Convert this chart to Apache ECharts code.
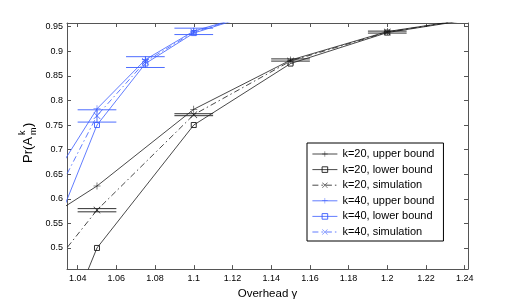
<!DOCTYPE html>
<html>
<head>
<meta charset="utf-8">
<script src="https://cdn.jsdelivr.net/npm/echarts@6/dist/echarts.min.js"></script>
<style>
html,body{margin:0;padding:0;background:#fff;}
#chart{width:518px;height:305px;}
</style>
</head>
<body>
<div id="chart"></div>
<script>
// ---- data ----
var k20X = [1.0, 1.05, 1.1, 1.15, 1.2, 1.25];
var k20Upper = [0.50, 0.626, 0.782, 0.882, 0.940, 0.970];
var k20Lower = [0.02, 0.500, 0.750, 0.875, 0.938, 0.969];
var k20Sim   = [0.33, 0.577, 0.771, 0.880, 0.939, 0.970];

var k40X = [1.025, 1.05, 1.075, 1.1, 1.125];
var k40Upper = [0.627, 0.783, 0.883, 0.941, 0.970];
var k40Lower = [0.505, 0.750, 0.875, 0.937, 0.968];
var k40Sim   = [0.578, 0.769, 0.879, 0.939, 0.969];

var k20ErrX = [1.05, 1.1, 1.15, 1.2];
var k20ErrLow = [0.5735, 0.769, 0.880, 0.937];
var k20ErrHigh = [0.580, 0.773, 0.8845, 0.941];

var k40ErrX = [1.05, 1.075, 1.1];
var k40ErrLow = [0.756, 0.867, 0.934];
var k40ErrHigh = [0.781, 0.889, 0.947];

var errHalfWidth = 0.01;

var xTicks = [1.04, 1.06, 1.08, 1.1, 1.12, 1.14, 1.16, 1.18, 1.2, 1.22, 1.24];
var yTicks = [0.5, 0.55, 0.6, 0.65, 0.7, 0.75, 0.8, 0.85, 0.9, 0.95];

var seriesNames = ['k=20, upper bound', 'k=20, lower bound', 'k=20, simulation',
                   'k=40, upper bound', 'k=40, lower bound', 'k=40, simulation'];

// ---- styles ----
var BLACK = '#1a1a1a';
var BLUE = '#3a5cff';
var AXIS = '#555';
var X_MIN = 1.0345, X_MAX = 1.2417, Y_MIN = 0.457, Y_MAX = 0.9575;
var PLUS = 'path://M0,4.6 L10,4.6 L10,5.4 L0,5.4 Z M4.6,0 L5.4,0 L5.4,10 L4.6,10 Z';
var CROSS = 'path://M0.6,0 L5,4.4 L9.4,0 L10,0.6 L5.6,5 L10,9.4 L9.4,10 L5,5.6 L0.6,10 L0,9.4 L4.4,5 L0,0.6 Z';
var DASHDOT = [6, 3, 1.5, 3];

function zip(xs, ys) { return xs.map(function (x, i) { return [x, ys[i]]; }); }

function lineSeries(name, xs, ys, color, symbol, dashed, hollow) {
  return {
    name: name, type: 'line', data: zip(xs, ys), clip: true,
    symbol: symbol, symbolSize: hollow ? 5 : 7,
    lineStyle: { color: color, width: 0.8, type: dashed ? DASHDOT : 'solid' },
    itemStyle: hollow ? { color: 'rgba(0,0,0,0)', borderColor: color, borderWidth: 0.9 }
                      : { color: color, borderWidth: 0 },
    emphasis: { disabled: true }, animation: false, z: 3
  };
}

function errSeries(xs, lows, highs, color) {
  return {
    type: 'custom', clip: true, animation: false, silent: true, z: 2,
    data: xs.map(function (x, i) { return [x, lows[i], highs[i]]; }),
    renderItem: function (params, api) {
      var x = api.value(0), lo = api.value(1), hi = api.value(2);
      var a = api.coord([x - errHalfWidth, lo]), b = api.coord([x + errHalfWidth, lo]);
      var c = api.coord([x - errHalfWidth, hi]), d = api.coord([x + errHalfWidth, hi]);
      var m1 = api.coord([x, lo]), m2 = api.coord([x, hi]);
      var st = { stroke: color, lineWidth: 0.9, fill: null };
      return { type: 'group', children: [
        { type: 'line', shape: { x1: a[0], y1: a[1], x2: b[0], y2: b[1] }, style: st },
        { type: 'line', shape: { x1: c[0], y1: c[1], x2: d[0], y2: d[1] }, style: st },
        { type: 'line', shape: { x1: m1[0], y1: m1[1], x2: m2[0], y2: m2[1] }, style: st }
      ]};
    }
  };
}

var chart = echarts.init(document.getElementById('chart'), null, { renderer: 'canvas' });
var FONT = 'Liberation Sans, Arial, Helvetica, sans-serif';

var option = {
  backgroundColor: '#fff',
  textStyle: { fontFamily: FONT },
  animation: false,
  grid: { left: 67, right: 50, top: 23, bottom: 35, containLabel: false },
  xAxis: [{
    type: 'value', min: X_MIN, max: X_MAX, position: 'bottom',
    name: 'Overhead γ', nameLocation: 'middle', nameGap: 16,
    nameTextStyle: { fontSize: 11.5, color: '#000', fontFamily: FONT },
    axisLine: { show: true, onZero: false, lineStyle: { color: AXIS, width: 1 } },
    axisTick: { show: true, inside: true, length: 4, customValues: xTicks, lineStyle: { color: AXIS } },
    axisLabel: { show: true, customValues: xTicks, margin: 5, fontSize: 9, color: '#000',
      formatter: function (v) { return String(+(+v).toFixed(2)); } },
    splitLine: { show: false }
  }, {
    type: 'value', min: X_MIN, max: X_MAX, position: 'top',
    axisLine: { show: true, onZero: false, lineStyle: { color: AXIS, width: 1 } },
    axisTick: { show: true, inside: true, length: 4, customValues: xTicks, lineStyle: { color: AXIS } },
    axisLabel: { show: false }, splitLine: { show: false }
  }],
  yAxis: [{
    type: 'value', min: Y_MIN, max: Y_MAX, position: 'left',
    axisLine: { show: true, onZero: false, lineStyle: { color: AXIS, width: 1 } },
    axisTick: { show: true, inside: true, length: 4, customValues: yTicks, lineStyle: { color: AXIS } },
    axisLabel: { show: true, customValues: yTicks, margin: 4, fontSize: 9, color: '#000',
      formatter: function (v) { return String(+(+v).toFixed(2)); } },
    splitLine: { show: false }
  }, {
    type: 'value', min: Y_MIN, max: Y_MAX, position: 'right',
    axisLine: { show: true, onZero: false, lineStyle: { color: AXIS, width: 1 } },
    axisTick: { show: true, inside: true, length: 4, customValues: yTicks, lineStyle: { color: AXIS } },
    axisLabel: { show: false }, splitLine: { show: false }
  }],
  legend: {
    orient: 'vertical', left: 307, top: 143,
    data: seriesNames,
    backgroundColor: '#fff', borderColor: '#000', borderWidth: 1, borderRadius: 0,
    padding: [5, 9, 3, 5], itemGap: 3.6, itemWidth: 25, itemHeight: 7,
    lineStyle: { width: 0.8 },
    itemStyle: { borderWidth: 0.9 },
    textStyle: { fontSize: 11, color: '#000', fontFamily: FONT, lineHeight: 12 },
    selectedMode: false
  },
  graphic: [{
    type: 'group', x: 34, y: 163, rotation: Math.PI / 2,
    children: [
      { type: 'text', x: 0, y: -12, style: { text: 'Pr(A', fontSize: 13, fontFamily: FONT, fill: '#000', verticalAlign: 'top' } },
      { type: 'text', x: 28, y: -16, style: { text: 'k', fontSize: 9, fontFamily: FONT, fill: '#000', verticalAlign: 'top' } },
      { type: 'text', x: 28, y: -5, style: { text: 'm', fontSize: 9, fontFamily: FONT, fill: '#000', verticalAlign: 'top' } },
      { type: 'text', x: 36, y: -12, style: { text: ')', fontSize: 13, fontFamily: FONT, fill: '#000', verticalAlign: 'top' } }
    ]
  }],
  series: [
    lineSeries(seriesNames[0], k20X, k20Upper, BLACK, PLUS, false, false),
    lineSeries(seriesNames[1], k20X, k20Lower, BLACK, 'rect', false, true),
    lineSeries(seriesNames[2], k20X, k20Sim, BLACK, CROSS, true, false),
    lineSeries(seriesNames[3], k40X, k40Upper, BLUE, PLUS, false, false),
    lineSeries(seriesNames[4], k40X, k40Lower, BLUE, 'rect', false, true),
    lineSeries(seriesNames[5], k40X, k40Sim, BLUE, CROSS, true, false),
    errSeries(k20ErrX, k20ErrLow, k20ErrHigh, BLACK),
    errSeries(k40ErrX, k40ErrLow, k40ErrHigh, BLUE)
  ]
};
chart.setOption(option);
</script>
</body>
</html>
